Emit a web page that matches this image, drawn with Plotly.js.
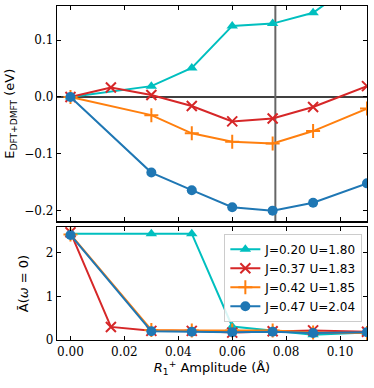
<!DOCTYPE html>
<html>
<head>
<meta charset="utf-8">
<script src="https://cdn.plot.ly/plotly-3.0.1.min.js"></script>
<style>
  html, body { margin: 0; padding: 0; background: #fff; }
  #chart { width: 374px; height: 388px; }
</style>
</head>
<body>
<div id="chart"></div>
<script>
// amplitudes (Angstrom)
const amp = [0.0, 0.015, 0.03, 0.045, 0.06, 0.075, 0.09, 0.11];
const ampNo15 = [0.0, 0.03, 0.045, 0.06, 0.075, 0.09, 0.11];

const labels = ['J=0.20 U=1.80', 'J=0.37 U=1.83', 'J=0.42 U=1.85', 'J=0.47 U=2.04'];
const colors = ['#00bfbf', '#d62728', '#ff7f0e', '#1f77b4'];
const symbols = ['triangle-up', 'x-thin-open', 'cross-thin-open', 'circle'];

// energies E_DFT+DMFT (eV)
const energyJ20 = [0.0, 0.019, 0.051, 0.125, 0.129, 0.148, 0.216];
const energyJ37 = [0.0, 0.0165, 0.0035, -0.016, -0.043, -0.038, -0.0176, 0.019];
const energyJ42 = [0.0, -0.032, -0.064, -0.079, -0.082, -0.060, -0.0205];
const energyJ47 = [0.0, -0.133, -0.164, -0.194, -0.200, -0.186, -0.152];

// spectral weight at the Fermi level
const specJ20 = [2.44, 2.44, 2.44, 0.31, 0.22, 0.12, 0.17];
const specJ37 = [2.47, 0.30, 0.21, 0.21, 0.17, 0.20, 0.22, 0.19];
const specJ42 = [2.42, 0.23, 0.22, 0.22, 0.22, 0.17, 0.16];
const specJ47 = [2.41, 0.20, 0.19, 0.18, 0.19, 0.16, 0.18];

const minimumAmp = 0.076;

const energies = [energyJ20, energyJ37, energyJ42, energyJ47];
const specs = [specJ20, specJ37, specJ42, specJ47];
const xs = [ampNo15, amp, ampNo15, ampNo15];

function series(i, y, axis, legend) {
  let thin = symbols[i].indexOf('thin') >= 0;
  return {
    x: xs[i], y: y,
    type: 'scatter', mode: 'lines+markers',
    name: labels[i],
    xaxis: 'x' + axis, yaxis: 'y' + axis,
    showlegend: legend,
    line: {color: colors[i], width: 2},
    marker: {
      symbol: symbols[i], color: colors[i],
      size: thin ? 10 : 10,
      line: {color: colors[i], width: thin ? 2 : 0}
    }
  };
}

let traces = [];
for (let i = 0; i < 4; i++) traces.push(series(i, energies[i], '', false));
for (let i = 0; i < 4; i++) traces.push(series(i, specs[i], '2', true));

const tickFont = {family: 'DejaVu Serif', size: 12, color: '#000'};
const axisCommon = {
  showline: true, linecolor: '#000', linewidth: 1.2, mirror: 'allticks',
  ticks: 'inside', ticklen: 4, tickwidth: 1, tickcolor: '#000',
  showgrid: false, zeroline: false, tickfont: tickFont
};

let layout = {
  width: 374, height: 388,
  margin: {l: 57, r: 7, t: 6, b: 48},
  paper_bgcolor: '#fff', plot_bgcolor: '#fff',
  font: {family: 'DejaVu Sans', size: 12, color: '#000'},
  xaxis: Object.assign({}, axisCommon, {
    range: [-0.005, 0.11], tickvals: [0, 0.02, 0.04, 0.06, 0.08, 0.1],
    showticklabels: false, anchor: 'y', matches: 'x2'
  }),
  yaxis: Object.assign({}, axisCommon, {
    domain: [0.355, 1], range: [-0.219, 0.16],
    tickvals: [-0.2, -0.1, 0, 0.1], ticktext: ['\u22120.2', '\u22120.1', '0.0', '0.1'],
    title: {text: 'E<sub>DFT+DMFT</sub> (eV)', font: {size: 13}, standoff: 6}
  }),
  xaxis2: Object.assign({}, axisCommon, {
    range: [-0.005, 0.11], tickvals: [0, 0.02, 0.04, 0.06, 0.08, 0.1],
    ticktext: ['0.00', '0.02', '0.04', '0.06', '0.08', '0.10'], anchor: 'y2',
    title: {text: '<i>R</i><sub>1</sub><sup>+</sup> Amplitude (Å)', font: {size: 13}, standoff: 4}
  }),
  yaxis2: Object.assign({}, axisCommon, {
    domain: [0, 0.338], range: [0, 2.59], tickvals: [0, 1, 2], anchor: 'x2',
    title: {text: 'Ā(<i>ω</i> = 0)', font: {size: 13}, standoff: 14}
  }),
  shapes: [
    {type: 'line', xref: 'x domain', yref: 'y', x0: 0, x1: 1, y0: 0, y1: 0,
     line: {color: '#000', width: 1.5}, layer: 'below'},
    {type: 'line', xref: 'x', yref: 'y domain', x0: minimumAmp, x1: minimumAmp, y0: 0, y1: 1,
     line: {color: '#666', width: 2}, layer: 'below'}
  ],
  legend: {
    x: 0.985, y: 0.318, xanchor: 'right', yanchor: 'top',
    xref: 'paper', yref: 'paper',
    bgcolor: 'rgba(255,255,255,0.85)', bordercolor: '#ccc', borderwidth: 1,
    font: {family: 'DejaVu Sans', size: 12}, tracegroupgap: 0,
    itemwidth: 30
  },
  showlegend: true
};

Plotly.newPlot('chart', traces, layout, {displayModeBar: false, staticPlot: true});
</script>
</body>
</html>
